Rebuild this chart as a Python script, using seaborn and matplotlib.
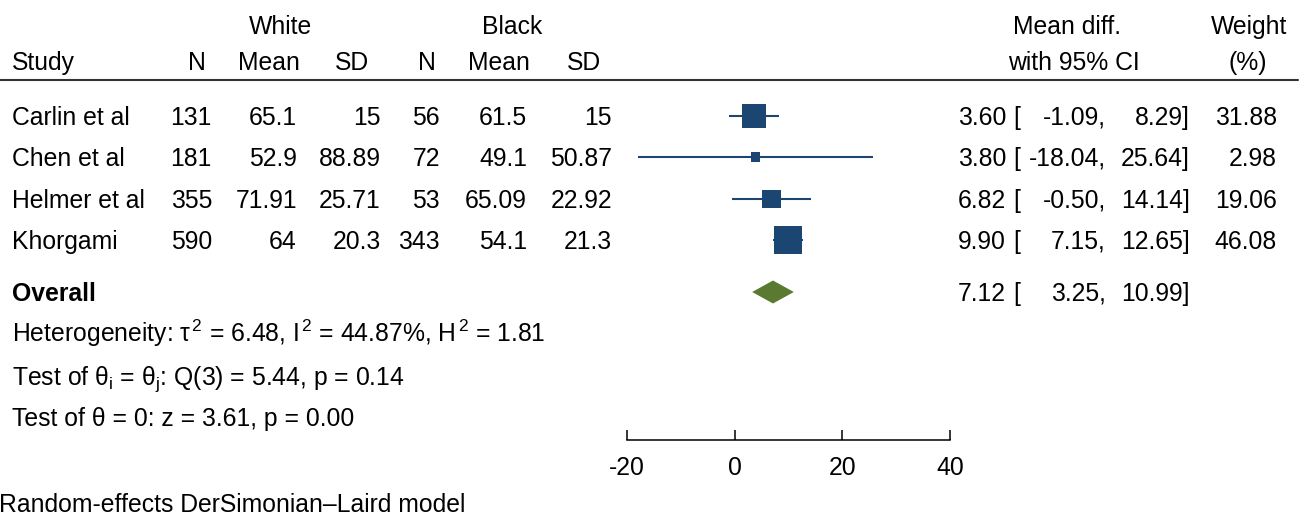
import matplotlib
matplotlib.use("Agg")
import matplotlib.pyplot as plt
import matplotlib.transforms as mtransforms
import seaborn as sns
import pandas as pd

# ---------------- data ----------------
studies = ["Carlin et al", "Chen et al", "Helmer et al", "Khorgami"]
white_n = [131, 181, 355, 590]
white_mean = [65.1, 52.9, 71.91, 64]
white_sd = [15, 88.89, 25.71, 20.3]
black_n = [56, 72, 53, 343]
black_mean = [61.5, 49.1, 65.09, 54.1]
black_sd = [15, 50.87, 22.92, 21.3]
mean_diff = [3.60, 3.80, 6.82, 9.90]
ci_low = [-1.09, -18.04, -0.50, 7.15]
ci_high = [8.29, 25.64, 14.14, 12.65]
weights = [31.88, 2.98, 19.06, 46.08]
overall_est = 7.12
overall_low = 3.25
overall_high = 10.99
x_ticks = [-20, 0, 20, 40]
heterogeneity = "Heterogeneity: τ\u200a${}^{2}$ = 6.48, I\u200a${}^{2}$ = 44.87%, H\u200a${}^{2}$ = 1.81"
test_homog = "Test of θ${}_{\\mathrm{i}}$ = θ${}_{\\mathrm{j}}$: Q(3) = 5.44, p = 0.14"
test_zero = "Test of θ = 0: z = 3.61, p = 0.00"
footnote = "Random-effects DerSimonian–Laird model"

# ---------------- style ----------------
sns.set_theme(style="white")
plt.rcParams["font.family"] = ["Liberation Sans", "DejaVu Sans"]
plt.rcParams["mathtext.fontset"] = "custom"
plt.rcParams["mathtext.rm"] = "Liberation Sans"
plt.rcParams["mathtext.it"] = "Liberation Sans:italic"
plt.rcParams["mathtext.bf"] = "Liberation Sans:bold"

NAVY = "#1a4671"
GREEN = "#5a7a31"
FS = 17.8
HALF_CAP = 8.7  # px from text centre to baseline

W, H = 1300, 516
fig = plt.figure(figsize=(W / 100, H / 100), dpi=100)
ax = fig.add_axes([0, 0, 1, 1])

# x: data units so that -20 -> px 627 and 40 -> px 950
ppu = (950 - 627) / 60.0
ax.set_xlim(-20 - 627 / ppu, 40 + (W - 950) / ppu)
ax.set_ylim(H, 0)  # y in layout rows (pixels from top)

# layout rows
y_head1, y_head2, y_rule = 25, 61, 80
row_y = [116, 157, 199, 240]
y_overall = 292
y_stats = [333, 376, 417]
y_axis = 440
y_foot = 503

df = pd.DataFrame({"study": studies, "md": mean_diff, "lo": ci_low,
                   "hi": ci_high, "weight": weights, "y": row_y})

# CI lines
ax.hlines(df["y"], df["lo"], df["hi"], color=NAVY, lw=1.5, zorder=2)
# squares sized by weight
sns.scatterplot(data=df, x="md", y="y", size="weight", sizes=(42, 392),
                marker="s", color=NAVY, linewidth=0, legend=False, ax=ax, zorder=3)
# overall diamond
dh = 11.5
ax.fill([overall_low, overall_est, overall_high, overall_est],
        [y_overall, y_overall - dh, y_overall, y_overall + dh],
        color=GREEN, lw=0, zorder=3)

# axis
for s in ["top", "left", "right"]:
    ax.spines[s].set_visible(False)
ax.spines["bottom"].set_position(("data", y_axis))
ax.spines["bottom"].set_bounds(x_ticks[0], x_ticks[-1])
ax.spines["bottom"].set_linewidth(1.1)
ax.spines["bottom"].set_color("black")
ax.set_xticks(x_ticks)
ax.set_xticklabels([str(t) for t in x_ticks])
ax.tick_params(axis="x", direction="in", length=7.5, width=1.1, color="black",
               pad=11.5, labelsize=FS, labelcolor="black", bottom=True)
ax.set_yticks([])
ax.set_xlabel("")
ax.set_ylabel("")
ax.grid(False)

tr = mtransforms.blended_transform_factory(ax.transAxes, ax.transData)


def txt(x, y, s, ha="left", **kw):
    ax.text(x / W, y + HALF_CAP, s, ha=ha, va="baseline", fontsize=FS,
            color="black", transform=tr, **kw)


# headers
txt(281, y_head1, "White", ha="center")
txt(512, y_head1, "Black", ha="center")
txt(1067, y_head1, "Mean diff.", ha="center")
txt(1249, y_head1, "Weight", ha="center")
txt(12, y_head2, "Study")
for xc, lab in [(197, "N"), (269, "Mean"), (352, "SD"), (427, "N"), (499, "Mean"), (584, "SD")]:
    txt(xc, y_head2, lab, ha="center")
txt(1074, y_head2, "with 95% CI", ha="center")
txt(1248, y_head2, "(%)", ha="center")

ax.plot([0, 1298 / W], [y_rule, y_rule], color="#333333", lw=1.5,
        transform=tr, clip_on=False)

cols = [(white_n, 212), (white_mean, 297), (white_sd, 381),
        (black_n, 440), (black_mean, 527), (black_sd, 612)]
for i, y in enumerate(row_y):
    txt(12, y, studies[i])
    for vals, xr in cols:
        txt(xr, y, f"{vals[i]:g}", ha="right")
    txt(1006, y, f"{mean_diff[i]:.2f}", ha="right")
    txt(1013, y, "[")
    txt(1106, y, f"{ci_low[i]:.2f},", ha="right")
    txt(1190, y, f"{ci_high[i]:.2f}]", ha="right")
    txt(1277, y, f"{weights[i]:.2f}", ha="right")

txt(12, y_overall, "Overall", fontweight="bold")
txt(1006, y_overall, f"{overall_est:.2f}", ha="right")
txt(1013, y_overall, "[")
txt(1106, y_overall, f"{overall_low:.2f},", ha="right")
txt(1190, y_overall, f"{overall_high:.2f}]", ha="right")

for y, s in zip(y_stats, [heterogeneity, test_homog, test_zero]):
    txt(12, y, s)

txt(-1, y_foot, footnote)

fig.savefig("out.png", dpi=100)
